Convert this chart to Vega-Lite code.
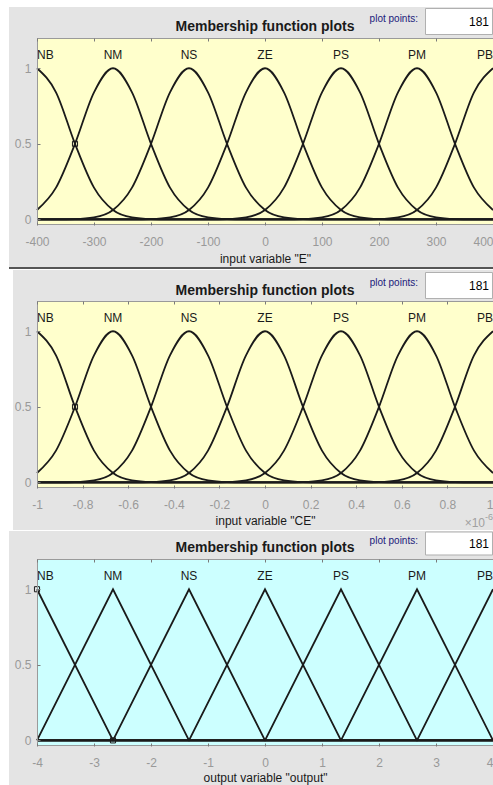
{
  "$schema": "https://vega.github.io/schema/vega-lite/v6.json",
  "background": "#ffffff",
  "padding": {"left": 9, "top": 7, "right": 0, "bottom": 0},
  "spacing": 1,
  "datasets": {
    "E": [
      {"m":"NB","x":-400,"y":1},{"m":"NB","x":-366.67,"y":0.8409},{"m":"NB","x":-333.33,"y":0.5},{"m":"NB","x":-300,"y":0.2102},{"m":"NB","x":-266.67,"y":0.0625},{"m":"NB","x":-233.33,"y":0.0131},{"m":"NB","x":-200,"y":0.002},{"m":"NB","x":-166.67,"y":0.0002},{"m":"NB","x":-133.33,"y":0},{"m":"NB","x":400,"y":0},
      {"m":"NM","x":-400,"y":0.0625},{"m":"NM","x":-366.67,"y":0.2102},{"m":"NM","x":-333.33,"y":0.5},{"m":"NM","x":-300,"y":0.8409},{"m":"NM","x":-266.67,"y":1},{"m":"NM","x":-233.33,"y":0.8409},{"m":"NM","x":-200,"y":0.5},{"m":"NM","x":-166.67,"y":0.2102},{"m":"NM","x":-133.33,"y":0.0625},{"m":"NM","x":-100,"y":0.0131},{"m":"NM","x":-66.67,"y":0.002},{"m":"NM","x":-33.33,"y":0.0002},{"m":"NM","x":0,"y":0},{"m":"NM","x":400,"y":0},
      {"m":"NS","x":-400,"y":0},{"m":"NS","x":-366.67,"y":0.0002},{"m":"NS","x":-333.33,"y":0.002},{"m":"NS","x":-300,"y":0.0131},{"m":"NS","x":-266.67,"y":0.0625},{"m":"NS","x":-233.33,"y":0.2102},{"m":"NS","x":-200,"y":0.5},{"m":"NS","x":-166.67,"y":0.8409},{"m":"NS","x":-133.33,"y":1},{"m":"NS","x":-100,"y":0.8409},{"m":"NS","x":-66.67,"y":0.5},{"m":"NS","x":-33.33,"y":0.2102},{"m":"NS","x":0,"y":0.0625},{"m":"NS","x":33.33,"y":0.0131},{"m":"NS","x":66.67,"y":0.002},{"m":"NS","x":100,"y":0.0002},{"m":"NS","x":133.33,"y":0},{"m":"NS","x":400,"y":0},
      {"m":"ZE","x":-400,"y":0},{"m":"ZE","x":-266.67,"y":0},{"m":"ZE","x":-233.33,"y":0.0002},{"m":"ZE","x":-200,"y":0.002},{"m":"ZE","x":-166.67,"y":0.0131},{"m":"ZE","x":-133.33,"y":0.0625},{"m":"ZE","x":-100,"y":0.2102},{"m":"ZE","x":-66.67,"y":0.5},{"m":"ZE","x":-33.33,"y":0.8409},{"m":"ZE","x":0,"y":1},{"m":"ZE","x":33.33,"y":0.8409},{"m":"ZE","x":66.67,"y":0.5},{"m":"ZE","x":100,"y":0.2102},{"m":"ZE","x":133.33,"y":0.0625},{"m":"ZE","x":166.67,"y":0.0131},{"m":"ZE","x":200,"y":0.002},{"m":"ZE","x":233.33,"y":0.0002},{"m":"ZE","x":266.67,"y":0},{"m":"ZE","x":400,"y":0},
      {"m":"PS","x":-400,"y":0},{"m":"PS","x":-133.33,"y":0},{"m":"PS","x":-100,"y":0.0002},{"m":"PS","x":-66.67,"y":0.002},{"m":"PS","x":-33.33,"y":0.0131},{"m":"PS","x":0,"y":0.0625},{"m":"PS","x":33.33,"y":0.2102},{"m":"PS","x":66.67,"y":0.5},{"m":"PS","x":100,"y":0.8409},{"m":"PS","x":133.33,"y":1},{"m":"PS","x":166.67,"y":0.8409},{"m":"PS","x":200,"y":0.5},{"m":"PS","x":233.33,"y":0.2102},{"m":"PS","x":266.67,"y":0.0625},{"m":"PS","x":300,"y":0.0131},{"m":"PS","x":333.33,"y":0.002},{"m":"PS","x":366.67,"y":0.0002},{"m":"PS","x":400,"y":0},
      {"m":"PM","x":-400,"y":0},{"m":"PM","x":0,"y":0},{"m":"PM","x":33.33,"y":0.0002},{"m":"PM","x":66.67,"y":0.002},{"m":"PM","x":100,"y":0.0131},{"m":"PM","x":133.33,"y":0.0625},{"m":"PM","x":166.67,"y":0.2102},{"m":"PM","x":200,"y":0.5},{"m":"PM","x":233.33,"y":0.8409},{"m":"PM","x":266.67,"y":1},{"m":"PM","x":300,"y":0.8409},{"m":"PM","x":333.33,"y":0.5},{"m":"PM","x":366.67,"y":0.2102},{"m":"PM","x":400,"y":0.0625},
      {"m":"PB","x":-400,"y":0},{"m":"PB","x":133.33,"y":0},{"m":"PB","x":166.67,"y":0.0002},{"m":"PB","x":200,"y":0.002},{"m":"PB","x":233.33,"y":0.0131},{"m":"PB","x":266.67,"y":0.0625},{"m":"PB","x":300,"y":0.2102},{"m":"PB","x":333.33,"y":0.5},{"m":"PB","x":366.67,"y":0.8409},{"m":"PB","x":400,"y":1}
    ],
    "CE": [
      {"m":"NB","x":-1,"y":1},{"m":"NB","x":-0.9167,"y":0.8409},{"m":"NB","x":-0.8333,"y":0.5},{"m":"NB","x":-0.75,"y":0.2102},{"m":"NB","x":-0.6667,"y":0.0625},{"m":"NB","x":-0.5833,"y":0.0131},{"m":"NB","x":-0.5,"y":0.002},{"m":"NB","x":-0.4167,"y":0.0002},{"m":"NB","x":-0.3333,"y":0},{"m":"NB","x":1,"y":0},
      {"m":"NM","x":-1,"y":0.0625},{"m":"NM","x":-0.9167,"y":0.2102},{"m":"NM","x":-0.8333,"y":0.5},{"m":"NM","x":-0.75,"y":0.8409},{"m":"NM","x":-0.6667,"y":1},{"m":"NM","x":-0.5833,"y":0.8409},{"m":"NM","x":-0.5,"y":0.5},{"m":"NM","x":-0.4167,"y":0.2102},{"m":"NM","x":-0.3333,"y":0.0625},{"m":"NM","x":-0.25,"y":0.0131},{"m":"NM","x":-0.1667,"y":0.002},{"m":"NM","x":-0.0833,"y":0.0002},{"m":"NM","x":0,"y":0},{"m":"NM","x":1,"y":0},
      {"m":"NS","x":-1,"y":0},{"m":"NS","x":-0.9167,"y":0.0002},{"m":"NS","x":-0.8333,"y":0.002},{"m":"NS","x":-0.75,"y":0.0131},{"m":"NS","x":-0.6667,"y":0.0625},{"m":"NS","x":-0.5833,"y":0.2102},{"m":"NS","x":-0.5,"y":0.5},{"m":"NS","x":-0.4167,"y":0.8409},{"m":"NS","x":-0.3333,"y":1},{"m":"NS","x":-0.25,"y":0.8409},{"m":"NS","x":-0.1667,"y":0.5},{"m":"NS","x":-0.0833,"y":0.2102},{"m":"NS","x":0,"y":0.0625},{"m":"NS","x":0.0833,"y":0.0131},{"m":"NS","x":0.1667,"y":0.002},{"m":"NS","x":0.25,"y":0.0002},{"m":"NS","x":0.3333,"y":0},{"m":"NS","x":1,"y":0},
      {"m":"ZE","x":-1,"y":0},{"m":"ZE","x":-0.6667,"y":0},{"m":"ZE","x":-0.5833,"y":0.0002},{"m":"ZE","x":-0.5,"y":0.002},{"m":"ZE","x":-0.4167,"y":0.0131},{"m":"ZE","x":-0.3333,"y":0.0625},{"m":"ZE","x":-0.25,"y":0.2102},{"m":"ZE","x":-0.1667,"y":0.5},{"m":"ZE","x":-0.0833,"y":0.8409},{"m":"ZE","x":0,"y":1},{"m":"ZE","x":0.0833,"y":0.8409},{"m":"ZE","x":0.1667,"y":0.5},{"m":"ZE","x":0.25,"y":0.2102},{"m":"ZE","x":0.3333,"y":0.0625},{"m":"ZE","x":0.4167,"y":0.0131},{"m":"ZE","x":0.5,"y":0.002},{"m":"ZE","x":0.5833,"y":0.0002},{"m":"ZE","x":0.6667,"y":0},{"m":"ZE","x":1,"y":0},
      {"m":"PS","x":-1,"y":0},{"m":"PS","x":-0.3333,"y":0},{"m":"PS","x":-0.25,"y":0.0002},{"m":"PS","x":-0.1667,"y":0.002},{"m":"PS","x":-0.0833,"y":0.0131},{"m":"PS","x":0,"y":0.0625},{"m":"PS","x":0.0833,"y":0.2102},{"m":"PS","x":0.1667,"y":0.5},{"m":"PS","x":0.25,"y":0.8409},{"m":"PS","x":0.3333,"y":1},{"m":"PS","x":0.4167,"y":0.8409},{"m":"PS","x":0.5,"y":0.5},{"m":"PS","x":0.5833,"y":0.2102},{"m":"PS","x":0.6667,"y":0.0625},{"m":"PS","x":0.75,"y":0.0131},{"m":"PS","x":0.8333,"y":0.002},{"m":"PS","x":0.9167,"y":0.0002},{"m":"PS","x":1,"y":0},
      {"m":"PM","x":-1,"y":0},{"m":"PM","x":0,"y":0},{"m":"PM","x":0.0833,"y":0.0002},{"m":"PM","x":0.1667,"y":0.002},{"m":"PM","x":0.25,"y":0.0131},{"m":"PM","x":0.3333,"y":0.0625},{"m":"PM","x":0.4167,"y":0.2102},{"m":"PM","x":0.5,"y":0.5},{"m":"PM","x":0.5833,"y":0.8409},{"m":"PM","x":0.6667,"y":1},{"m":"PM","x":0.75,"y":0.8409},{"m":"PM","x":0.8333,"y":0.5},{"m":"PM","x":0.9167,"y":0.2102},{"m":"PM","x":1,"y":0.0625},
      {"m":"PB","x":-1,"y":0},{"m":"PB","x":0.3333,"y":0},{"m":"PB","x":0.4167,"y":0.0002},{"m":"PB","x":0.5,"y":0.002},{"m":"PB","x":0.5833,"y":0.0131},{"m":"PB","x":0.6667,"y":0.0625},{"m":"PB","x":0.75,"y":0.2102},{"m":"PB","x":0.8333,"y":0.5},{"m":"PB","x":0.9167,"y":0.8409},{"m":"PB","x":1,"y":1}
    ],
    "OUT": [
      {"m":"NB","x":-4,"y":1},{"m":"NB","x":-2.6667,"y":0},{"m":"NB","x":4,"y":0},
      {"m":"NM","x":-4,"y":0},{"m":"NM","x":-2.6667,"y":1},{"m":"NM","x":-1.3333,"y":0},{"m":"NM","x":4,"y":0},
      {"m":"NS","x":-4,"y":0},{"m":"NS","x":-2.6667,"y":0},{"m":"NS","x":-1.3333,"y":1},{"m":"NS","x":0,"y":0},{"m":"NS","x":4,"y":0},
      {"m":"ZE","x":-4,"y":0},{"m":"ZE","x":-1.3333,"y":0},{"m":"ZE","x":0,"y":1},{"m":"ZE","x":1.3333,"y":0},{"m":"ZE","x":4,"y":0},
      {"m":"PS","x":-4,"y":0},{"m":"PS","x":0,"y":0},{"m":"PS","x":1.3333,"y":1},{"m":"PS","x":2.6667,"y":0},{"m":"PS","x":4,"y":0},
      {"m":"PM","x":-4,"y":0},{"m":"PM","x":1.3333,"y":0},{"m":"PM","x":2.6667,"y":1},{"m":"PM","x":4,"y":0},
      {"m":"PB","x":-4,"y":0},{"m":"PB","x":2.6667,"y":0},{"m":"PB","x":4,"y":1}
    ],
    "labE": [{"m":"NB","x":-400},{"m":"NM","x":-266.67},{"m":"NS","x":-133.33},{"m":"ZE","x":0},{"m":"PS","x":133.33},{"m":"PM","x":266.67},{"m":"PB","x":400}],
    "labCE": [{"m":"NB","x":-1},{"m":"NM","x":-0.6667},{"m":"NS","x":-0.3333},{"m":"ZE","x":0},{"m":"PS","x":0.3333},{"m":"PM","x":0.6667},{"m":"PB","x":1}],
    "labOUT": [{"m":"NB","x":-4},{"m":"NM","x":-2.6667},{"m":"NS","x":-1.3333},{"m":"ZE","x":0},{"m":"PS","x":1.3333},{"m":"PM","x":2.6667},{"m":"PB","x":4}]
  },
  "vconcat": [
    {
      "width": 456, "height": 187,
      "view": {"stroke": "transparent", "strokeWidth": 0},
      "data": {"values": [{}]},
      "resolve": {"axis": {"x": "independent", "y": "independent"}},
      "layer": [
        {"mark": {"type": "rect", "color": "#e4e4e4"},
         "encoding": {"x": {"datum": -449.12, "type": "quantitative", "axis": null}, "x2": {"datum": 400}, "y": {"datum": 1.405, "type": "quantitative", "axis": null}, "y2": {"datum": -0.3146}}},
        {"mark": {"type": "rect", "color": "#555555"},
         "encoding": {"x": {"datum": -449.12, "type": "quantitative", "axis": null}, "x2": {"datum": 400}, "y": {"datum": -0.3146, "type": "quantitative", "axis": null}, "y2": {"datum": -0.3278}}},
        {"mark": {"type": "rect", "color": "#ffffcc"},
         "encoding": {"x": {"datum": -400, "type": "quantitative", "axis": null}, "x2": {"datum": 400}, "y": {"datum": 1.2, "type": "quantitative", "axis": null}, "y2": {"datum": -0.037}}},
        {"data": {"name": "E"},
         "mark": {"type": "line", "interpolate": "monotone", "color": "#1a1a1a", "strokeWidth": 1.8},
         "encoding": {
           "x": {"field": "x", "type": "quantitative", "scale": {"domain": [-400, 400], "nice": false, "zero": false},
                 "axis": {"zindex": 2, "grid": false, "domain": false, "values": [-400, -300, -200, -100, 0, 100, 200, 300, 400], "format": "d", "title": "input variable \"E\"", "titlePadding": 6,
                          "labelAlign": {"condition": {"test": "datum.value === 400", "value": "right"}, "value": "center"}}},
           "y": {"field": "y", "type": "quantitative", "scale": {"domain": [-0.037, 1.2], "nice": false, "zero": false},
                 "axis": {"zindex": 2, "grid": false, "domain": false, "values": [0, 0.5, 1], "format": "~g", "title": null, "labelPadding": 9}},
           "detail": {"field": "m"}}},
        {"data": {"values": [{"x": -333.33, "y": 0.5}]},
         "mark": {"type": "point", "shape": "square", "size": 26, "filled": false, "color": "#1a1a1a", "strokeWidth": 1, "opacity": 1},
         "encoding": {"x": {"field": "x", "type": "quantitative", "axis": null}, "y": {"field": "y", "type": "quantitative", "axis": null}}},
        {"data": {"name": "labE"},
         "mark": {"type": "text", "fontSize": 12, "color": "#1a1a1a", "baseline": "middle", "align": {"expr": "datum.m === 'NB' ? 'left' : (datum.m === 'PB' ? 'right' : 'center')"}},
         "encoding": {"x": {"field": "x", "type": "quantitative", "axis": null}, "y": {"datum": 1.09, "type": "quantitative", "axis": null}, "text": {"field": "m"}}},
        {"mark": {"type": "rect", "fillOpacity": 0, "stroke": "#9a9a9a", "strokeWidth": 2, "clip": true},
         "encoding": {"x": {"datum": -400, "type": "quantitative", "axis": {"zindex": 2, "grid": false, "domain": false, "orient": "top", "values": [-400, -300, -200, -100, 0, 100, 200, 300, 400], "labels": false, "title": null}},
                      "x2": {"datum": 430}, "y": {"datum": 1.2, "type": "quantitative", "axis": null}, "y2": {"datum": -0.037}}},
        {"mark": {"type": "text", "text": "Membership function plots", "fontSize": 14, "fontWeight": "bold", "color": "#1a1a1a", "baseline": "middle", "align": "center"},
         "encoding": {"x": {"datum": 0, "type": "quantitative", "axis": null}, "y": {"datum": 1.2728, "type": "quantitative", "axis": null}}},
        {"mark": {"type": "text", "text": "plot points:", "fontSize": 10, "color": "#20207a", "baseline": "alphabetic", "align": "right"},
         "encoding": {"x": {"datum": 268.4, "type": "quantitative", "axis": null}, "y": {"datum": 1.3058, "type": "quantitative", "axis": null}}},
        {"mark": {"type": "rect", "color": "#ffffff", "stroke": "#b0b0b0", "strokeWidth": 1},
         "encoding": {"x": {"datum": 281.58, "type": "quantitative", "axis": null}, "x2": {"datum": 399.12}, "y": {"datum": 1.3951, "type": "quantitative", "axis": null}, "y2": {"datum": 1.2231}}},
        {"mark": {"type": "text", "text": "181", "fontSize": 12, "color": "#000000", "baseline": "middle", "align": "right"},
         "encoding": {"x": {"datum": 393.0, "type": "quantitative", "axis": null}, "y": {"datum": 1.3091, "type": "quantitative", "axis": null}}}
      ]
    },
    {
      "width": 456, "height": 187,
      "view": {"stroke": "transparent", "strokeWidth": 0},
      "data": {"values": [{}]},
      "resolve": {"axis": {"x": "independent", "y": "independent"}},
      "layer": [
        {"mark": {"type": "rect", "color": "#e4e4e4"},
         "encoding": {"x": {"datum": -1.1053, "type": "quantitative", "axis": null}, "x2": {"datum": 1}, "y": {"datum": 1.405, "type": "quantitative", "axis": null}, "y2": {"datum": -0.3146}}},
        {"mark": {"type": "rect", "color": "#ffffcc"},
         "encoding": {"x": {"datum": -1, "type": "quantitative", "axis": null}, "x2": {"datum": 1}, "y": {"datum": 1.2, "type": "quantitative", "axis": null}, "y2": {"datum": -0.037}}},
        {"data": {"name": "CE"},
         "mark": {"type": "line", "interpolate": "monotone", "color": "#1a1a1a", "strokeWidth": 1.8},
         "encoding": {
           "x": {"field": "x", "type": "quantitative", "scale": {"domain": [-1, 1], "nice": false, "zero": false},
                 "axis": {"zindex": 2, "grid": false, "domain": false, "values": [-1, -0.8, -0.6, -0.4, -0.2, 0, 0.2, 0.4, 0.6, 0.8, 1], "format": "~g", "title": "input variable \"CE\"", "titlePadding": 5,
                          "labelAlign": {"condition": {"test": "datum.value === 1", "value": "right"}, "value": "center"}}},
           "y": {"field": "y", "type": "quantitative", "scale": {"domain": [-0.037, 1.2], "nice": false, "zero": false},
                 "axis": {"zindex": 2, "grid": false, "domain": false, "values": [0, 0.5, 1], "format": "~g", "title": null, "labelPadding": 9}},
           "detail": {"field": "m"}}},
        {"data": {"values": [{"x": -0.8333, "y": 0.5}]},
         "mark": {"type": "point", "shape": "square", "size": 26, "filled": false, "color": "#1a1a1a", "strokeWidth": 1, "opacity": 1},
         "encoding": {"x": {"field": "x", "type": "quantitative", "axis": null}, "y": {"field": "y", "type": "quantitative", "axis": null}}},
        {"data": {"name": "labCE"},
         "mark": {"type": "text", "fontSize": 12, "color": "#1a1a1a", "baseline": "middle", "align": {"expr": "datum.m === 'NB' ? 'left' : (datum.m === 'PB' ? 'right' : 'center')"}},
         "encoding": {"x": {"field": "x", "type": "quantitative", "axis": null}, "y": {"datum": 1.09, "type": "quantitative", "axis": null}, "text": {"field": "m"}}},
        {"mark": {"type": "rect", "fillOpacity": 0, "stroke": "#9a9a9a", "strokeWidth": 2, "clip": true},
         "encoding": {"x": {"datum": -1, "type": "quantitative", "axis": {"zindex": 2, "grid": false, "domain": false, "orient": "top", "values": [-1, -0.8, -0.6, -0.4, -0.2, 0, 0.2, 0.4, 0.6, 0.8, 1], "labels": false, "title": null}},
                      "x2": {"datum": 1.075}, "y": {"datum": 1.2, "type": "quantitative", "axis": null}, "y2": {"datum": -0.037}}},
        {"mark": {"type": "text", "text": "Membership function plots", "fontSize": 14, "fontWeight": "bold", "color": "#1a1a1a", "baseline": "middle", "align": "center"},
         "encoding": {"x": {"datum": 0, "type": "quantitative", "axis": null}, "y": {"datum": 1.2661, "type": "quantitative", "axis": null}}},
        {"mark": {"type": "text", "text": "plot points:", "fontSize": 10, "color": "#20207a", "baseline": "alphabetic", "align": "right"},
         "encoding": {"x": {"datum": 0.6711, "type": "quantitative", "axis": null}, "y": {"datum": 1.2992, "type": "quantitative", "axis": null}}},
        {"mark": {"type": "rect", "color": "#ffffff", "stroke": "#b0b0b0", "strokeWidth": 1},
         "encoding": {"x": {"datum": 0.7039, "type": "quantitative", "axis": null}, "x2": {"datum": 0.9978}, "y": {"datum": 1.3885, "type": "quantitative", "axis": null}, "y2": {"datum": 1.2165}}},
        {"mark": {"type": "text", "text": "181", "fontSize": 12, "color": "#000000", "baseline": "middle", "align": "right"},
         "encoding": {"x": {"datum": 0.9825, "type": "quantitative", "axis": null}, "y": {"datum": 1.3025, "type": "quantitative", "axis": null}}},
        {"mark": {"type": "text", "text": "×10", "fontSize": 12, "color": "#a0a0a0", "baseline": "middle", "align": "right"},
         "encoding": {"x": {"datum": 0.9649, "type": "quantitative", "axis": null}, "y": {"datum": -0.2683, "type": "quantitative", "axis": null}}},
        {"mark": {"type": "text", "text": "-6", "fontSize": 9, "color": "#a0a0a0", "baseline": "middle", "align": "left"},
         "encoding": {"x": {"datum": 0.9649, "type": "quantitative", "axis": null}, "y": {"datum": -0.2286, "type": "quantitative", "axis": null}}}
      ]
    },
    {
      "width": 456, "height": 187,
      "view": {"stroke": "transparent", "strokeWidth": 0},
      "data": {"values": [{}]},
      "resolve": {"axis": {"x": "independent", "y": "independent"}},
      "layer": [
        {"mark": {"type": "rect", "color": "#e4e4e4"},
         "encoding": {"x": {"datum": -4.4912, "type": "quantitative", "axis": null}, "x2": {"datum": 4}, "y": {"datum": 1.3852, "type": "quantitative", "axis": null}, "y2": {"datum": -0.2947}}},
        {"mark": {"type": "rect", "color": "#ccffff"},
         "encoding": {"x": {"datum": -4, "type": "quantitative", "axis": null}, "x2": {"datum": 4}, "y": {"datum": 1.2, "type": "quantitative", "axis": null}, "y2": {"datum": -0.037}}},
        {"data": {"name": "OUT"},
         "mark": {"type": "line", "color": "#1a1a1a", "strokeWidth": 1.8},
         "encoding": {
           "x": {"field": "x", "type": "quantitative", "scale": {"domain": [-4, 4], "nice": false, "zero": false},
                 "axis": {"zindex": 2, "grid": false, "domain": false, "values": [-4, -3, -2, -1, 0, 1, 2, 3, 4], "format": "d", "title": "output variable \"output\"", "titlePadding": 4,
                          "labelAlign": {"condition": {"test": "datum.value === 4", "value": "right"}, "value": "center"}}},
           "y": {"field": "y", "type": "quantitative", "scale": {"domain": [-0.037, 1.2], "nice": false, "zero": false},
                 "axis": {"zindex": 2, "grid": false, "domain": false, "values": [0, 0.5, 1], "format": "~g", "title": null, "labelPadding": 9}},
           "detail": {"field": "m"}}},
        {"data": {"values": [{"x": -4, "y": 1}, {"x": -2.6667, "y": 0}]},
         "mark": {"type": "point", "shape": "square", "size": 26, "filled": false, "color": "#1a1a1a", "strokeWidth": 1, "opacity": 1},
         "encoding": {"x": {"field": "x", "type": "quantitative", "axis": null}, "y": {"field": "y", "type": "quantitative", "axis": null}}},
        {"data": {"name": "labOUT"},
         "mark": {"type": "text", "fontSize": 12, "color": "#1a1a1a", "baseline": "middle", "align": {"expr": "datum.m === 'NB' ? 'left' : (datum.m === 'PB' ? 'right' : 'center')"}},
         "encoding": {"x": {"field": "x", "type": "quantitative", "axis": null}, "y": {"datum": 1.09, "type": "quantitative", "axis": null}, "text": {"field": "m"}}},
        {"mark": {"type": "rect", "fillOpacity": 0, "stroke": "#9a9a9a", "strokeWidth": 2, "clip": true},
         "encoding": {"x": {"datum": -4, "type": "quantitative", "axis": {"zindex": 2, "grid": false, "domain": false, "orient": "top", "values": [-4, -3, -2, -1, 0, 1, 2, 3, 4], "labels": false, "title": null}},
                      "x2": {"datum": 4.3}, "y": {"datum": 1.2, "type": "quantitative", "axis": null}, "y2": {"datum": -0.037}}},
        {"mark": {"type": "text", "text": "Membership function plots", "fontSize": 14, "fontWeight": "bold", "color": "#1a1a1a", "baseline": "middle", "align": "center"},
         "encoding": {"x": {"datum": 0, "type": "quantitative", "axis": null}, "y": {"datum": 1.2728, "type": "quantitative", "axis": null}}},
        {"mark": {"type": "text", "text": "plot points:", "fontSize": 10, "color": "#20207a", "baseline": "alphabetic", "align": "right"},
         "encoding": {"x": {"datum": 2.6842, "type": "quantitative", "axis": null}, "y": {"datum": 1.2992, "type": "quantitative", "axis": null}}},
        {"mark": {"type": "rect", "color": "#ffffff", "stroke": "#b0b0b0", "strokeWidth": 1},
         "encoding": {"x": {"datum": 2.8158, "type": "quantitative", "axis": null}, "x2": {"datum": 3.9912}, "y": {"datum": 1.3786, "type": "quantitative", "axis": null}, "y2": {"datum": 1.2265}}},
        {"mark": {"type": "text", "text": "181", "fontSize": 12, "color": "#000000", "baseline": "middle", "align": "right"},
         "encoding": {"x": {"datum": 3.9298, "type": "quantitative", "axis": null}, "y": {"datum": 1.3025, "type": "quantitative", "axis": null}}}
      ]
    }
  ],
  "config": {
    "font": "Liberation Sans",
    "view": {"stroke": "transparent", "strokeWidth": 0},
    "style": {"cell": {"stroke": "transparent", "strokeWidth": 0}},
    "locale": {"number": {"decimal": ".", "thousands": ",", "grouping": [3], "currency": ["$", ""], "minus": "-"}},
    "axis": {
      "grid": false, "domain": false,
      "tickSize": -3, "tickColor": "#7a7a7a", "tickWidth": 1,
      "labelColor": "#999999", "labelFontSize": 12, "labelFont": "Liberation Sans", "labelPadding": 14,
      "labelOverlap": false, "labelFlush": false,
      "titleFont": "Liberation Sans", "titleFontSize": 12, "titleFontWeight": "normal", "titleColor": "#1a1a1a"
    }
  }
}
